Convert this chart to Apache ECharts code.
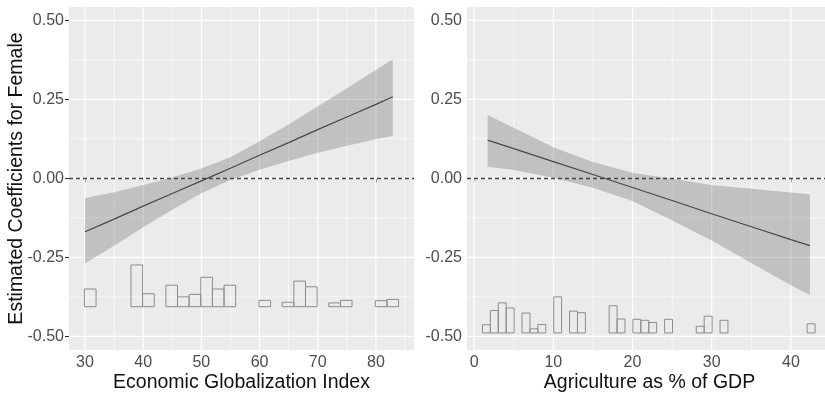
<!DOCTYPE html>
<html>
<head>
<meta charset="utf-8">
<script src="https://cdn.jsdelivr.net/npm/echarts@6/dist/echarts.min.js"></script>
<style>html,body{margin:0;padding:0;background:#fff}#c{width:825px;height:393px}</style>
</head>
<body>
<div id="c"></div>
<script>
// ---- Data ----
const yTicks = [-0.5, -0.25, 0, 0.25, 0.5];
const yMinor = [-0.375, -0.125, 0.125, 0.375];
const leftXTicks = [30, 40, 50, 60, 70, 80];
const leftXMinor = [35, 45, 55, 65, 75, 85];
const rightXTicks = [0, 10, 20, 30, 40];
const rightXMinor = [5, 15, 25, 35, 45];

// Left panel: Economic Globalization Index
const leftX     = [30, 35, 40, 45, 50, 55, 60, 65, 70, 75, 80, 82.9];
const leftFit   = [-0.169, -0.129, -0.088, -0.048, -0.008, 0.032, 0.073, 0.113, 0.154, 0.194, 0.234, 0.258];
const leftUpper = [-0.062, -0.044, -0.021, 0.003, 0.031, 0.067, 0.117, 0.170, 0.227, 0.285, 0.343, 0.377];
const leftLower = [-0.269, -0.213, -0.155, -0.099, -0.047, -0.005, 0.027, 0.055, 0.081, 0.103, 0.124, 0.135];
const leftBins  = [30.9, 38.9, 40.9, 44.9, 46.9, 48.9, 50.9, 52.9, 54.9, 60.9, 64.9, 66.9, 68.9, 72.9, 74.9, 80.9, 82.9];
const leftTops  = [-0.350, -0.274, -0.365, -0.338, -0.375, -0.367, -0.313, -0.350, -0.338, -0.386, -0.392, -0.325, -0.343, -0.394, -0.386, -0.387, -0.383];
const leftBase  = -0.406;
const leftBinW  = 2;

// Right panel: Agriculture as % of GDP
const rightX     = [1.7, 5, 10, 15, 20, 25, 30, 35, 40, 42.4];
const rightFit   = [0.121, 0.094, 0.053, 0.012, -0.029, -0.070, -0.112, -0.153, -0.194, -0.213];
const rightUpper = [0.200, 0.160, 0.098, 0.052, 0.018, -0.001, -0.021, -0.033, -0.045, -0.050];
const rightLower = [0.037, 0.026, 0.002, -0.030, -0.072, -0.133, -0.197, -0.268, -0.338, -0.369];
const rightBins  = [1.55, 2.55, 3.55, 4.55, 6.55, 7.55, 8.55, 10.55, 12.55, 13.55, 17.55, 18.55, 20.55, 21.55, 22.55, 24.55, 28.55, 29.55, 31.55, 42.55];
const rightTops  = [-0.463, -0.418, -0.394, -0.410, -0.426, -0.476, -0.462, -0.375, -0.420, -0.425, -0.403, -0.445, -0.446, -0.449, -0.456, -0.446, -0.468, -0.436, -0.449, -0.460];
const rightBase  = -0.489;
const rightBinW  = 1;

const FONT = 'Liberation Sans, Arial, Helvetica, sans-serif';

function gridData(xMajor, xMinor) {
  const d = [];
  yMinor.forEach(v => d.push([0, v, 1, 0]));
  xMinor.forEach(v => d.push([v, 0, 0, 0]));
  yTicks.forEach(v => d.push([0, v, 1, 1]));
  xMajor.forEach(v => d.push([v, 0, 0, 1]));
  return d;
}
function gridSeries(idx, xMajor, xMinor) {
  return {
    type: 'custom', xAxisIndex: idx, yAxisIndex: idx, z: 1, silent: true,
    data: gridData(xMajor, xMinor),
    renderItem: function (params, api) {
      const cs = params.coordSys;
      const isY = api.value(2) === 1;
      const major = api.value(3) === 1;
      const style = { stroke: '#FFFFFF', lineWidth: major ? 1.2 : 0.6 };
      if (isY) {
        const py = api.coord([api.value(0), api.value(1)])[1];
        return { type: 'line', shape: { x1: cs.x, y1: py, x2: cs.x + cs.width, y2: py }, style };
      } else {
        const px = api.coord([api.value(0), 0])[0];
        return { type: 'line', shape: { x1: px, y1: cs.y, x2: px, y2: cs.y + cs.height }, style };
      }
    }
  };
}
function ribbonSeries(idx, xs, up, lo) {
  return {
    type: 'custom', xAxisIndex: idx, yAxisIndex: idx, z: 2, silent: true,
    data: [[xs[0], up[0]]],
    renderItem: function (params, api) {
      const pts = [];
      for (let i = 0; i < xs.length; i++) pts.push(api.coord([xs[i], up[i]]));
      for (let i = xs.length - 1; i >= 0; i--) pts.push(api.coord([xs[i], lo[i]]));
      return { type: 'polygon', shape: { points: pts }, style: { fill: 'rgba(95,95,95,0.30)' } };
    }
  };
}
function histSeries(idx, bins, tops, base, w) {
  return {
    type: 'custom', xAxisIndex: idx, yAxisIndex: idx, z: 3, silent: true,
    data: bins.map((b, i) => [b, tops[i]]),
    renderItem: function (params, api) {
      const c = api.value(0), t = api.value(1);
      const p1 = api.coord([c - w / 2, base]);
      const p2 = api.coord([c + w / 2, t]);
      return { type: 'rect', shape: { x: p1[0], y: p2[1], width: p2[0] - p1[0], height: p1[1] - p2[1] },
               style: { fill: 'none', stroke: '#8C8C8C', lineWidth: 1 } };
    }
  };
}
function fitSeries(idx, xs, ys) {
  return {
    type: 'line', xAxisIndex: idx, yAxisIndex: idx, z: 4, silent: true,
    data: xs.map((x, i) => [x, ys[i]]), showSymbol: false, symbol: 'none',
    lineStyle: { color: '#474747', width: 1.2 },
    markLine: {
      silent: true, symbol: 'none', label: { show: false },
      lineStyle: { color: '#444', type: [4, 3], width: 1.3 },
      data: [{ yAxis: 0 }]
    }
  };
}
function xAxis(idx, min, max, ticks, name) {
  return {
    gridIndex: idx, type: 'value', min, max,
    splitLine: { show: false }, axisLine: { show: false },
    axisTick: { show: true, length: 4, customValues: ticks, lineStyle: { color: '#333', width: 1 } },
    axisLabel: { customValues: ticks, color: '#4D4D4D', fontSize: 16, margin: 5, fontFamily: FONT },
    name, nameLocation: 'middle', nameGap: 22.5, nameMoveOverlap: false,
    nameTextStyle: { fontSize: 19.5, color: '#111', fontFamily: FONT }
  };
}
function yAxis(idx, name) {
  return {
    gridIndex: idx, type: 'value', min: -0.543, max: 0.542,
    splitLine: { show: false }, axisLine: { show: false },
    axisTick: { show: true, length: 4, customValues: yTicks, lineStyle: { color: '#333', width: 1 } },
    axisLabel: { customValues: yTicks, color: '#4D4D4D', fontSize: 16, margin: 5, fontFamily: FONT,
                 formatter: v => v.toFixed(2) },
    name: name || '', nameLocation: 'middle', nameGap: 42, nameRotate: 90, nameMoveOverlap: false,
    nameTextStyle: { fontSize: 19.5, color: '#111', fontFamily: FONT }
  };
}

const chart = echarts.init(document.getElementById('c'), null, { renderer: 'canvas', width: 825, height: 393 });
chart.setOption({
  animation: false,
  backgroundColor: '#FFFFFF',
  grid: [
    { left: 69, top: 7, width: 345, height: 343, show: true, backgroundColor: '#EBEBEB', borderWidth: 0,
      containLabel: false, outerBoundsMode: 'none' },
    { left: 467, top: 7, width: 365, height: 343, show: true, backgroundColor: '#EBEBEB', borderWidth: 0,
      containLabel: false, outerBoundsMode: 'none' }
  ],
  xAxis: [
    xAxis(0, 27.25, 86.55, leftXTicks, 'Economic Globalization Index'),
    xAxis(1, -0.9, 45.19, rightXTicks, 'Agriculture as % of GDP')
  ],
  yAxis: [
    yAxis(0, 'Estimated Coefficients for Female'),
    yAxis(1, '')
  ],
  series: [
    gridSeries(0, leftXTicks, leftXMinor),
    gridSeries(1, rightXTicks, rightXMinor),
    ribbonSeries(0, leftX, leftUpper, leftLower),
    ribbonSeries(1, rightX, rightUpper, rightLower),
    histSeries(0, leftBins, leftTops, leftBase, leftBinW),
    histSeries(1, rightBins, rightTops, rightBase, rightBinW),
    fitSeries(0, leftX, leftFit),
    fitSeries(1, rightX, rightFit)
  ]
});
</script>
</body>
</html>
